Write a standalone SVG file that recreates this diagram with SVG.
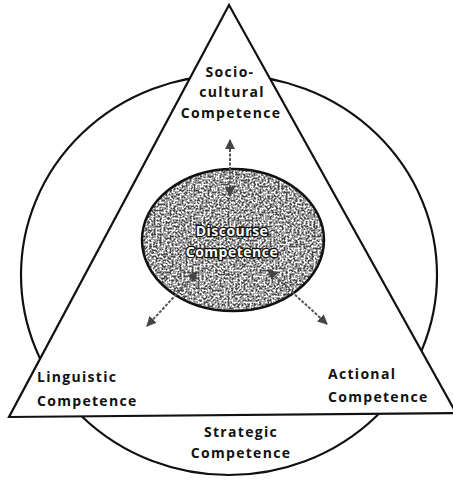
<svg xmlns="http://www.w3.org/2000/svg" width="453" height="480" viewBox="0 0 453 480">
<defs>
<filter id="speckle" x="0" y="0" width="100%" height="100%">
<feTurbulence type="fractalNoise" baseFrequency="0.5" numOctaves="2" seed="3" result="n"/>
<feColorMatrix in="n" type="matrix" values="0 0 0 0 0  0 0 0 0 0  0 0 0 0 0  1.2 1.2 0 0 -0.8" result="a"/>
<feComponentTransfer in="a" result="b"><feFuncA type="discrete" tableValues="0 0.3 0.9 1"/></feComponentTransfer>
<feFlood flood-color="#ffffff" result="w"/>
<feComposite in="w" in2="b" operator="in" result="spots"/>
<feMerge result="m"><feMergeNode in="SourceGraphic"/><feMergeNode in="spots"/></feMerge>
<feComposite in="m" in2="SourceGraphic" operator="in"/>
</filter>
<marker id="ah" viewBox="0 0 10 10" refX="9" refY="5" markerWidth="5" markerHeight="5" orient="auto-start-reverse">
<path d="M0,0 L10,5 L0,10 z" fill="#444"/>
</marker>
</defs>
<style>
.shape{fill:none;stroke:#111;stroke-width:2.2}
.lbl{font-family:"Open Sans","Liberation Sans",sans-serif;font-weight:bold;font-size:14px;letter-spacing:1.3px;fill:#111}
.mid{text-anchor:middle}
.inner{font-family:"Open Sans","Liberation Sans",sans-serif;font-weight:bold;font-size:14px;letter-spacing:0.5px;fill:#fff;stroke:#111;stroke-width:2.5;paint-order:stroke;text-anchor:middle}
.conn{stroke:#555;stroke-width:2;stroke-dasharray:3 1.5;fill:none}
</style>
<rect width="453" height="480" fill="#fff"/>
<g id="strategic">
<ellipse cx="229" cy="275" rx="208" ry="200" class="shape"/>
<text class="lbl mid" x="241" y="437">Strategic</text>
<text class="lbl mid" x="241" y="458">Competence</text>
</g>
<g id="triangle">
<polygon points="229,5 9,417 456,413" fill="#fff" stroke="#111" stroke-width="2.2" stroke-linejoin="miter"/>
</g>
<g id="sociocultural">
<text class="lbl mid" x="230" y="77">Socio-</text>
<text class="lbl mid" x="232" y="97">cultural</text>
<text class="lbl mid" x="231" y="118">Competence</text>
</g>
<g id="linguistic">
<text class="lbl" x="37" y="382">Linguistic</text>
<text class="lbl" x="37" y="406">Competence</text>
</g>
<g id="actional">
<text class="lbl" x="328" y="379">Actional</text>
<text class="lbl" x="328" y="402">Competence</text>
</g>
<g id="discourse">
<ellipse cx="233" cy="240" rx="91" ry="71" fill="#4a4a4a" filter="url(#speckle)"/>
<ellipse cx="233" cy="240" rx="91" ry="71" fill="none" stroke="#111" stroke-width="2.5"/>
<text class="inner" x="232" y="236">Discourse</text>
<text class="inner" x="232" y="257">Competence</text>
</g>
<g id="connectors">
<line class="conn" x1="230" y1="140" x2="230" y2="196" marker-start="url(#ah)" marker-end="url(#ah)"/>
<line class="conn" x1="147" y1="326" x2="197" y2="272" marker-start="url(#ah)" marker-end="url(#ah)"/>
<line class="conn" x1="327" y1="324" x2="268" y2="270" marker-start="url(#ah)" marker-end="url(#ah)"/>
</g>
</svg>
